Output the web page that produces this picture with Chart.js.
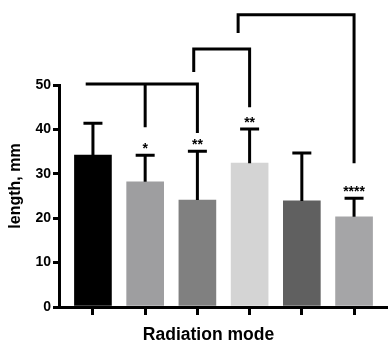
<!DOCTYPE html>
<html>
<head>
<meta charset="utf-8">
<script src="https://cdn.jsdelivr.net/npm/chart.js@4/dist/chart.umd.min.js"></script>
<style>
  html, body { margin: 0; padding: 0; background: #fff; }
  #wrap { width: 388px; height: 342px; }
</style>
</head>
<body>
<div id="wrap"><canvas id="grafico"></canvas></div>
<script>
// dados
var grupos = [0, 1, 2, 3, 4, 5];
var medias = [34.2, 28.2, 24.1, 32.4, 23.9, 20.3];
var desvios = [7.2, 6.0, 11.0, 7.7, 10.8, 4.2];
var estrelas = ['', '*', '**', '**', '', '****'];
var cores = ['#000000', '#9e9ea0', '#808080', '#d4d4d4', '#606060', '#a5a5a7'];

// colchetes de comparacao: altura da barra horizontal, pontas [x, y final]
var colchetes = [
  { y: 50.2, x0: -0.11, x1: 2.0, pernas: [[1.0, 40.5], [2.0, 39.2]] },
  { y: 58.1, x0: 1.93, x1: 3.0, pernas: [[1.93, 52.9], [3.0, 45.0]] },
  { y: 65.8, x0: 2.78, x1: 5.0, pernas: [[2.78, 61.7], [5.0, 32.4]] }
];

var tituloX = 'Radiation mode';
var tituloY = 'length, mm';

Chart.defaults.font.family = "Arial, 'Liberation Sans', sans-serif";
Chart.defaults.color = '#000';

//Barras de erro, estrelas, colchetes e titulos dos eixos
var extras = {
  id: 'extras',
  afterDatasetsDraw: function (chart) {
    var ctx = chart.ctx;
    var xs = chart.scales.x, ys = chart.scales.y;
    var area = chart.chartArea;
    var meta = chart.getDatasetMeta(0);
    ctx.save();
    ctx.strokeStyle = '#000';
    ctx.fillStyle = '#000';
    ctx.lineWidth = 3;
    ctx.lineCap = 'butt';
    meta.data.forEach(function (bar, i) {
      var topo = ys.getPixelForValue(medias[i] + desvios[i]);
      ctx.beginPath();
      ctx.moveTo(bar.x, bar.y);
      ctx.lineTo(bar.x, topo);
      ctx.moveTo(bar.x - 9.5, topo);
      ctx.lineTo(bar.x + 9.5, topo);
      ctx.stroke();
      if (estrelas[i]) {
        ctx.font = "bold 14px Arial, 'Liberation Sans', sans-serif";
        ctx.textAlign = 'center';
        ctx.textBaseline = 'middle';
        ctx.fillText(estrelas[i], bar.x, topo - 6);
      }
    });
    colchetes.forEach(function (c) {
      var yh = ys.getPixelForValue(c.y);
      ctx.beginPath();
      ctx.moveTo(xs.getPixelForValue(c.x0) - 1.5, yh);
      ctx.lineTo(xs.getPixelForValue(c.x1) + 1.5, yh);
      c.pernas.forEach(function (p) {
        var xp = xs.getPixelForValue(p[0]);
        ctx.moveTo(xp, yh);
        ctx.lineTo(xp, ys.getPixelForValue(p[1]));
      });
      ctx.stroke();
    });

    ctx.font = "bold 17.5px Arial, 'Liberation Sans', sans-serif";
    ctx.textAlign = 'center';
    ctx.textBaseline = 'alphabetic';
    ctx.fillText(tituloX, (area.left + area.right) / 2 - 15, 340);

    ctx.font = "bold 16px Arial, 'Liberation Sans', sans-serif";
    ctx.translate(20, (area.top + area.bottom) / 2 - 10);
    ctx.rotate(-Math.PI / 2);
    ctx.fillText(tituloY, 0, 0);
    ctx.restore();
  }
};

var ctx = document.getElementById('grafico');
var chartGraph = new Chart(ctx, {
  type: 'bar',
  data: {
    datasets: [{
      data: grupos.map(function (g, i) { return { x: g, y: medias[i] }; }),
      backgroundColor: cores,
      borderWidth: 0,
      barThickness: 37
    }]
  },
  options: {
    responsive: true,
    maintainAspectRatio: false,
    animation: false,
    layout: { padding: { top: 85, right: 0, left: 0, bottom: 0 } },
    plugins: { legend: { display: false }, tooltip: { enabled: false } },
    scales: {
      x: {
        type: 'linear',
        offset: false,
        min: -0.65,
        max: 5.65,
        afterBuildTicks: function (s) { s.ticks = grupos.map(function (g) { return { value: g }; }); },
        afterFit: function (s) { s.height = 35; },
        ticks: { display: false },
        grid: { offset: false, drawOnChartArea: false, drawTicks: true, tickLength: 8, color: '#000', lineWidth: 3 },
        border: { display: true, color: '#000', width: 3 }
      },
      y: {
        min: 0,
        max: 50,
        afterFit: function (s) { s.width = 59; },
        ticks: { stepSize: 10, font: { size: 14, weight: 'bold' }, padding: 2 },
        grid: { drawOnChartArea: false, drawTicks: true, tickLength: 6, color: '#000', lineWidth: 3 },
        border: { display: true, color: '#000', width: 3 }
      }
    }
  },
  plugins: [extras]
});
</script>
</body>
</html>
